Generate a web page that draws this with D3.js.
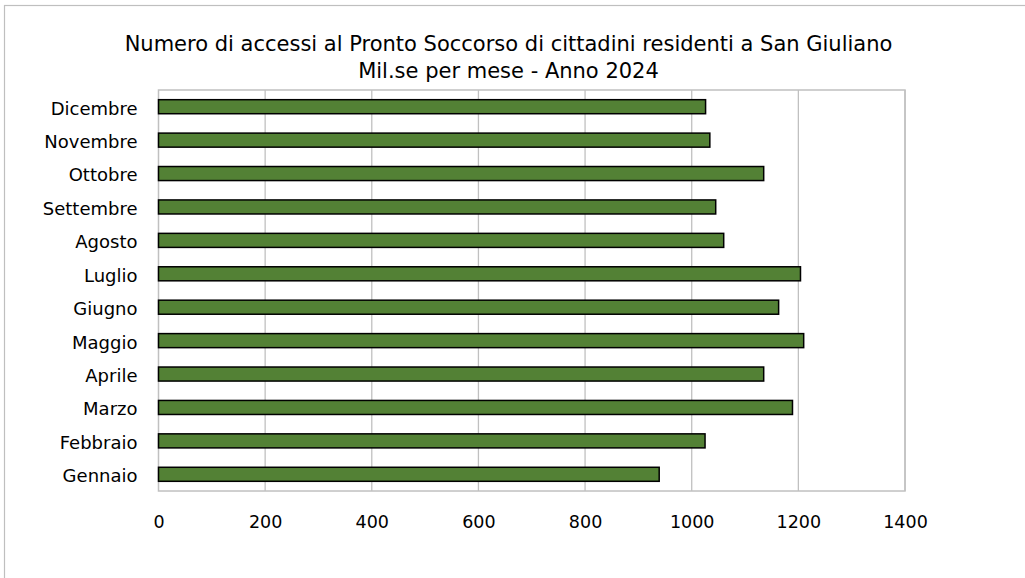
<!DOCTYPE html>
<html><head><meta charset="utf-8">
<script src="https://cdn.jsdelivr.net/npm/d3@7"></script>
<style>body{margin:0;background:#fff}svg{display:block}</style>
</head><body>
<svg id="c" width="1025" height="578"></svg>
<script>
const categories = ["Gennaio","Febbraio","Marzo","Aprile","Maggio","Giugno","Luglio","Agosto","Settembre","Ottobre","Novembre","Dicembre"];
const values = [939,1025,1189,1135,1210,1163,1204,1060,1045,1135,1034,1026];
const xTicks = [0,200,400,600,800,1000,1200,1400];
const titleLines = ["Numero di accessi al Pronto Soccorso di cittadini residenti a San Giuliano","Mil.se per mese - Anno 2024"];

const font = "'DejaVu Sans',sans-serif";
const svg = d3.select("#c");
svg.append("rect").attr("x",4.5).attr("y",5.5).attr("width",1030).attr("height",580)
  .attr("fill","#fff").attr("stroke","#bfbfbf").attr("stroke-width",1.2);

const m = {left:158.5, right:905, top:90, bottom:491};
const x = d3.scaleLinear().domain([0,1400]).range([m.left,m.right]);
const y = d3.scaleBand().domain(categories.slice().reverse()).range([m.top,m.bottom]).paddingInner(0.58).paddingOuter(0.29);

const g = svg.append("g");
g.selectAll("line.grid").data(xTicks.slice(1)).join("line").attr("class","grid")
  .attr("x1",d=>x(d)).attr("x2",d=>x(d)).attr("y1",m.top).attr("y2",m.bottom)
  .attr("stroke","#c0c0c0").attr("stroke-width",1.3);
g.append("rect").attr("x",m.left).attr("y",m.top).attr("width",m.right-m.left).attr("height",m.bottom-m.top)
  .attr("fill","none").attr("stroke","#c0c0c0").attr("stroke-width",1.5);

g.selectAll("rect.bar").data(categories).join("rect").attr("class","bar")
  .attr("x",x(0)).attr("y",d=>y(d)).attr("width",(d,i)=>x(values[i])-x(0)).attr("height",y.bandwidth())
  .attr("fill","#538135").attr("stroke","#000").attr("stroke-width",1.5);

const xAxis = d3.axisBottom(x).tickValues(xTicks).tickFormat(d3.format("d")).tickSize(0).tickPadding(0);
const ax = svg.append("g").attr("transform",`translate(0,528)`).call(xAxis);
ax.select(".domain").remove();
ax.selectAll("text").attr("font-family",font).attr("font-size",17.5).attr("fill","#000").attr("dy","0").attr("y",0);

const yAxis = d3.axisLeft(y).tickSize(0).tickPadding(21);
const ay = svg.append("g").attr("transform",`translate(${m.left},0)`).call(yAxis);
ay.select(".domain").remove();
ay.selectAll("text").attr("font-family",font).attr("font-size",18).attr("fill","#000").attr("dy","0.44em");

svg.selectAll("text.title").data(titleLines).join("text").attr("class","title")
  .attr("x",508.5).attr("y",(d,i)=>51+i*27).attr("text-anchor","middle")
  .attr("font-family",font).attr("font-size",21).attr("fill","#000").text(d=>d);
</script>
</body></html>
